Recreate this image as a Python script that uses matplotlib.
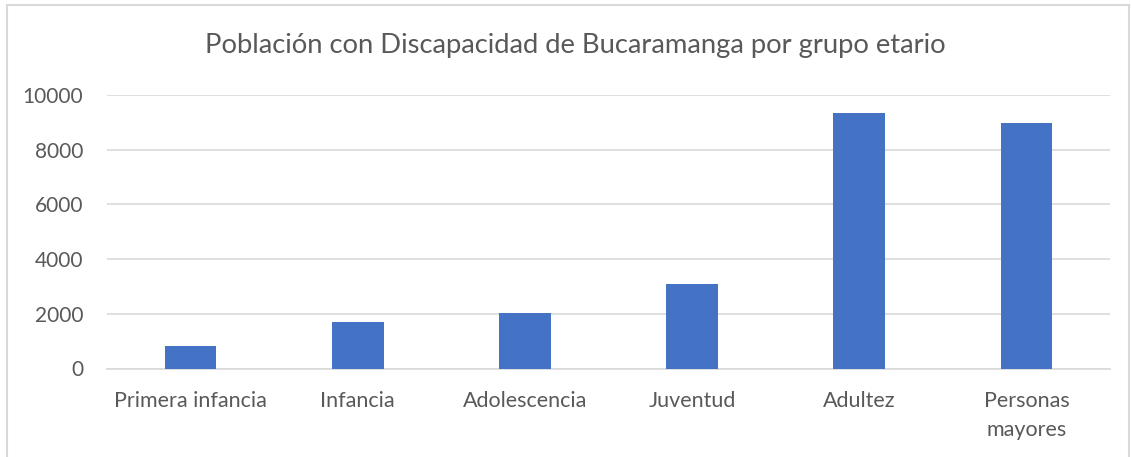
import matplotlib
matplotlib.use("Agg")
import matplotlib.pyplot as plt
from matplotlib.patches import Rectangle

categories = ["Primera infancia", "Infancia", "Adolescencia", "Juventud", "Adultez", "Personas\nmayores"]
values = [812, 1686, 2044, 3079, 9353, 8987]
yticks = [0, 2000, 4000, 6000, 8000, 10000]
title = "Población con Discapacidad de Bucaramanga por grupo etario"

plt.rcParams['font.family'] = ['Lato', 'DejaVu Sans']

W, H = 1131, 457
fig = plt.figure(figsize=(W / 100, H / 100), dpi=100)
ax = fig.add_axes([107 / W, 1 - 368.5 / H, (1110 - 107) / W, (368.5 - 95) / H])

x = list(range(len(categories)))
ax.bar(x, values, width=0.31, color="#4472C4", zorder=3)
ax.set_xlim(-0.5, len(categories) - 0.5)
ax.set_ylim(0, 10000)
ax.set_yticks(yticks)
ax.set_yticklabels([str(v) for v in yticks])
ax.set_xticks(x)
ax.set_xticklabels(categories, linespacing=1.55, va="top")
ax.tick_params(axis="both", length=0, labelcolor="#595959")
ax.tick_params(axis="y", pad=17, labelsize=15)
ax.tick_params(axis="x", pad=16, labelsize=15.5)
ax.grid(axis="y", color="#d9d9d9", linewidth=1.2, zorder=0)
for s in ["top", "right", "left"]:
    ax.spines[s].set_visible(False)
ax.spines["bottom"].set_color("#d9d9d9")
ax.spines["bottom"].set_linewidth(1.2)

fig.text(575 / W, 1 - 45 / H, title, ha="center", va="center", fontsize=19.7, color="#595959")

fig.patches.append(Rectangle((7 / W, -0.01), (1129 - 7) / W, 1 - 5 / H + 0.01,
                             transform=fig.transFigure, fill=False,
                             edgecolor="#d9d9d9", linewidth=1.5))

fig.savefig("out.png", dpi=100)
